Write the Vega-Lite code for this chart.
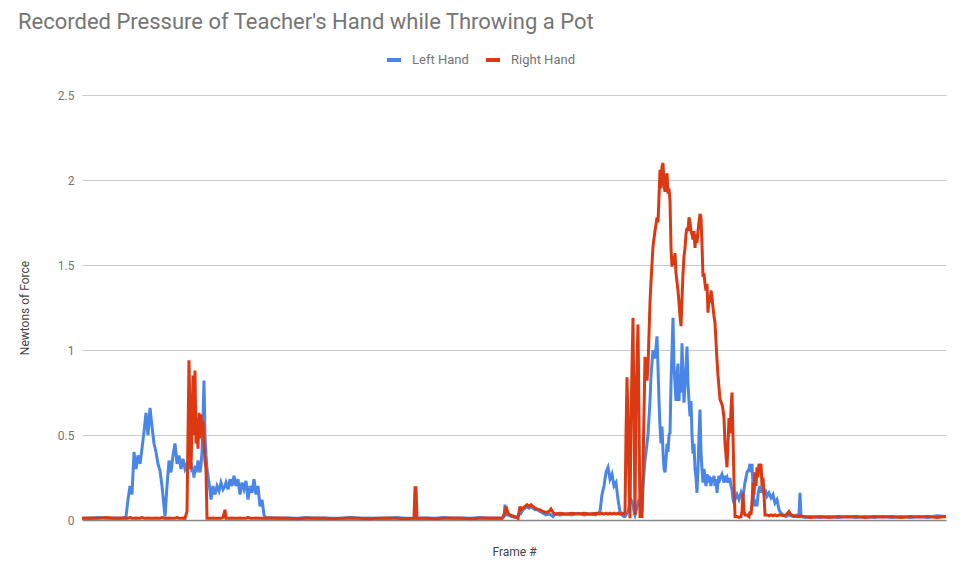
{
  "$schema": "https://vega.github.io/schema/vega-lite/v6.json",
  "autosize": "none",
  "padding": {"left": 82, "top": 95, "right": 14, "bottom": 46},
  "width": 864,
  "height": 425,
  "title": {
    "text": "Recorded Pressure of Teacher's Hand while Throwing a Pot",
    "anchor": "start",
    "frame": "group",
    "dx": -64,
    "offset": 17,
    "fontSize": 22,
    "font": "Roboto",
    "fontWeight": "normal",
    "color": "#757575"
  },
  "data": {
    "values": [
      {"f": 0, "Left Hand": 0.01, "Right Hand": 0.01},
      {"f": 8, "Left Hand": 0.01, "Right Hand": 0.012},
      {"f": 16, "Left Hand": 0.015, "Right Hand": 0.01},
      {"f": 24, "Left Hand": 0.01, "Right Hand": 0.015},
      {"f": 32, "Left Hand": 0.012, "Right Hand": 0.01},
      {"f": 40, "Left Hand": 0.01, "Right Hand": 0.012},
      {"f": 44, "Left Hand": 0.02, "Right Hand": 0.01},
      {"f": 46, "Left Hand": 0.12, "Right Hand": 0.01},
      {"f": 48, "Left Hand": 0.2, "Right Hand": 0.015},
      {"f": 50, "Left Hand": 0.15, "Right Hand": 0.01},
      {"f": 52, "Left Hand": 0.4, "Right Hand": 0.01},
      {"f": 54, "Left Hand": 0.3, "Right Hand": 0.012},
      {"f": 56, "Left Hand": 0.38, "Right Hand": 0.01},
      {"f": 58, "Left Hand": 0.33, "Right Hand": 0.01},
      {"f": 60, "Left Hand": 0.42, "Right Hand": 0.015},
      {"f": 62, "Left Hand": 0.52, "Right Hand": 0.01},
      {"f": 64, "Left Hand": 0.63, "Right Hand": 0.01},
      {"f": 66, "Left Hand": 0.5, "Right Hand": 0.012},
      {"f": 68, "Left Hand": 0.66, "Right Hand": 0.01},
      {"f": 70, "Left Hand": 0.55, "Right Hand": 0.01},
      {"f": 72, "Left Hand": 0.45, "Right Hand": 0.01},
      {"f": 74, "Left Hand": 0.4, "Right Hand": 0.012},
      {"f": 76, "Left Hand": 0.33, "Right Hand": 0.01},
      {"f": 78, "Left Hand": 0.29, "Right Hand": 0.01},
      {"f": 80, "Left Hand": 0.2, "Right Hand": 0.015},
      {"f": 82, "Left Hand": 0.08, "Right Hand": 0.01},
      {"f": 83, "Left Hand": 0.02, "Right Hand": 0.01},
      {"f": 85, "Left Hand": 0.2, "Right Hand": 0.01},
      {"f": 87, "Left Hand": 0.35, "Right Hand": 0.012},
      {"f": 89, "Left Hand": 0.28, "Right Hand": 0.01},
      {"f": 91, "Left Hand": 0.38, "Right Hand": 0.01},
      {"f": 93, "Left Hand": 0.45, "Right Hand": 0.01},
      {"f": 95, "Left Hand": 0.33, "Right Hand": 0.015},
      {"f": 97, "Left Hand": 0.38, "Right Hand": 0.01},
      {"f": 99, "Left Hand": 0.3, "Right Hand": 0.01},
      {"f": 101, "Left Hand": 0.36, "Right Hand": 0.012},
      {"f": 103, "Left Hand": 0.3, "Right Hand": 0.01},
      {"f": 105, "Left Hand": 0.33, "Right Hand": 0.05},
      {"f": 106, "Left Hand": 0.3, "Right Hand": 0.5},
      {"f": 107, "Left Hand": 0.35, "Right Hand": 0.94},
      {"f": 108, "Left Hand": 0.3, "Right Hand": 0.6},
      {"f": 109, "Left Hand": 0.33, "Right Hand": 0.3},
      {"f": 110, "Left Hand": 0.28, "Right Hand": 0.55},
      {"f": 111, "Left Hand": 0.3, "Right Hand": 0.85},
      {"f": 112, "Left Hand": 0.25, "Right Hand": 0.5},
      {"f": 113, "Left Hand": 0.32, "Right Hand": 0.88},
      {"f": 114, "Left Hand": 0.28, "Right Hand": 0.45},
      {"f": 115, "Left Hand": 0.3, "Right Hand": 0.6},
      {"f": 116, "Left Hand": 0.35, "Right Hand": 0.42},
      {"f": 117, "Left Hand": 0.3, "Right Hand": 0.63},
      {"f": 118, "Left Hand": 0.28, "Right Hand": 0.48},
      {"f": 119, "Left Hand": 0.32, "Right Hand": 0.62},
      {"f": 120, "Left Hand": 0.4, "Right Hand": 0.5},
      {"f": 121, "Left Hand": 0.6, "Right Hand": 0.58},
      {"f": 122, "Left Hand": 0.82, "Right Hand": 0.45},
      {"f": 123, "Left Hand": 0.5, "Right Hand": 0.35},
      {"f": 124, "Left Hand": 0.38, "Right Hand": 0.3},
      {"f": 125, "Left Hand": 0.3, "Right Hand": 0.01},
      {"f": 127, "Left Hand": 0.22, "Right Hand": 0.01},
      {"f": 129, "Left Hand": 0.12, "Right Hand": 0.01},
      {"f": 131, "Left Hand": 0.2, "Right Hand": 0.012},
      {"f": 133, "Left Hand": 0.15, "Right Hand": 0.01},
      {"f": 135, "Left Hand": 0.2, "Right Hand": 0.01},
      {"f": 137, "Left Hand": 0.17, "Right Hand": 0.01},
      {"f": 139, "Left Hand": 0.22, "Right Hand": 0.01},
      {"f": 141, "Left Hand": 0.18, "Right Hand": 0.015},
      {"f": 143, "Left Hand": 0.2, "Right Hand": 0.06},
      {"f": 144, "Left Hand": 0.22, "Right Hand": 0.01},
      {"f": 146, "Left Hand": 0.18, "Right Hand": 0.01},
      {"f": 148, "Left Hand": 0.24, "Right Hand": 0.01},
      {"f": 150, "Left Hand": 0.2, "Right Hand": 0.012},
      {"f": 152, "Left Hand": 0.26, "Right Hand": 0.01},
      {"f": 154, "Left Hand": 0.2, "Right Hand": 0.01},
      {"f": 156, "Left Hand": 0.24, "Right Hand": 0.01},
      {"f": 158, "Left Hand": 0.15, "Right Hand": 0.012},
      {"f": 160, "Left Hand": 0.22, "Right Hand": 0.01},
      {"f": 162, "Left Hand": 0.18, "Right Hand": 0.01},
      {"f": 164, "Left Hand": 0.23, "Right Hand": 0.01},
      {"f": 166, "Left Hand": 0.12, "Right Hand": 0.015},
      {"f": 168, "Left Hand": 0.2, "Right Hand": 0.01},
      {"f": 170, "Left Hand": 0.16, "Right Hand": 0.01},
      {"f": 172, "Left Hand": 0.24, "Right Hand": 0.01},
      {"f": 174, "Left Hand": 0.15, "Right Hand": 0.012},
      {"f": 176, "Left Hand": 0.2, "Right Hand": 0.01},
      {"f": 178, "Left Hand": 0.08, "Right Hand": 0.01},
      {"f": 180, "Left Hand": 0.12, "Right Hand": 0.01},
      {"f": 182, "Left Hand": 0.03, "Right Hand": 0.01},
      {"f": 184, "Left Hand": 0.01, "Right Hand": 0.012},
      {"f": 188, "Left Hand": 0.015, "Right Hand": 0.01},
      {"f": 197, "Left Hand": 0.01, "Right Hand": 0.012},
      {"f": 206, "Left Hand": 0.012, "Right Hand": 0.01},
      {"f": 215, "Left Hand": 0.01, "Right Hand": 0.008},
      {"f": 224, "Left Hand": 0.015, "Right Hand": 0.01},
      {"f": 233, "Left Hand": 0.01, "Right Hand": 0.012},
      {"f": 242, "Left Hand": 0.012, "Right Hand": 0.01},
      {"f": 251, "Left Hand": 0.01, "Right Hand": 0.008},
      {"f": 260, "Left Hand": 0.01, "Right Hand": 0.01},
      {"f": 269, "Left Hand": 0.015, "Right Hand": 0.012},
      {"f": 278, "Left Hand": 0.01, "Right Hand": 0.01},
      {"f": 287, "Left Hand": 0.012, "Right Hand": 0.008},
      {"f": 296, "Left Hand": 0.01, "Right Hand": 0.01},
      {"f": 305, "Left Hand": 0.01, "Right Hand": 0.012},
      {"f": 314, "Left Hand": 0.015, "Right Hand": 0.01},
      {"f": 323, "Left Hand": 0.01, "Right Hand": 0.008},
      {"f": 331, "Left Hand": 0.01, "Right Hand": 0.01},
      {"f": 332, "Left Hand": 0.01, "Right Hand": 0.01},
      {"f": 333, "Left Hand": 0.01, "Right Hand": 0.19},
      {"f": 334, "Left Hand": 0.01, "Right Hand": 0.19},
      {"f": 335, "Left Hand": 0.01, "Right Hand": 0.01},
      {"f": 344, "Left Hand": 0.012, "Right Hand": 0.01},
      {"f": 353, "Left Hand": 0.01, "Right Hand": 0.008},
      {"f": 362, "Left Hand": 0.015, "Right Hand": 0.01},
      {"f": 371, "Left Hand": 0.01, "Right Hand": 0.012},
      {"f": 380, "Left Hand": 0.012, "Right Hand": 0.01},
      {"f": 389, "Left Hand": 0.01, "Right Hand": 0.008},
      {"f": 398, "Left Hand": 0.015, "Right Hand": 0.01},
      {"f": 407, "Left Hand": 0.01, "Right Hand": 0.012},
      {"f": 416, "Left Hand": 0.012, "Right Hand": 0.01},
      {"f": 420, "Left Hand": 0.01, "Right Hand": 0.01},
      {"f": 422, "Left Hand": 0.02, "Right Hand": 0.03},
      {"f": 423, "Left Hand": 0.09, "Right Hand": 0.05},
      {"f": 424, "Left Hand": 0.03, "Right Hand": 0.08},
      {"f": 426, "Left Hand": 0.03, "Right Hand": 0.04},
      {"f": 428, "Left Hand": 0.025, "Right Hand": 0.03},
      {"f": 430, "Left Hand": 0.02, "Right Hand": 0.025},
      {"f": 433, "Left Hand": 0.015, "Right Hand": 0.02},
      {"f": 436, "Left Hand": 0.02, "Right Hand": 0.01},
      {"f": 438, "Left Hand": 0.05, "Right Hand": 0.08},
      {"f": 439, "Left Hand": 0.04, "Right Hand": 0.06},
      {"f": 441, "Left Hand": 0.06, "Right Hand": 0.07},
      {"f": 443, "Left Hand": 0.07, "Right Hand": 0.08},
      {"f": 445, "Left Hand": 0.08, "Right Hand": 0.09},
      {"f": 447, "Left Hand": 0.07, "Right Hand": 0.08},
      {"f": 449, "Left Hand": 0.08, "Right Hand": 0.09},
      {"f": 451, "Left Hand": 0.07, "Right Hand": 0.08},
      {"f": 453, "Left Hand": 0.06, "Right Hand": 0.07},
      {"f": 455, "Left Hand": 0.06, "Right Hand": 0.065},
      {"f": 458, "Left Hand": 0.05, "Right Hand": 0.06},
      {"f": 461, "Left Hand": 0.04, "Right Hand": 0.05},
      {"f": 464, "Left Hand": 0.03, "Right Hand": 0.045},
      {"f": 467, "Left Hand": 0.035, "Right Hand": 0.05},
      {"f": 469, "Left Hand": 0.03, "Right Hand": 0.065},
      {"f": 471, "Left Hand": 0.02, "Right Hand": 0.045},
      {"f": 473, "Left Hand": 0.035, "Right Hand": 0.035},
      {"f": 478, "Left Hand": 0.03, "Right Hand": 0.04},
      {"f": 484, "Left Hand": 0.035, "Right Hand": 0.035},
      {"f": 490, "Left Hand": 0.03, "Right Hand": 0.04},
      {"f": 496, "Left Hand": 0.04, "Right Hand": 0.035},
      {"f": 502, "Left Hand": 0.03, "Right Hand": 0.04},
      {"f": 508, "Left Hand": 0.035, "Right Hand": 0.035},
      {"f": 514, "Left Hand": 0.03, "Right Hand": 0.04},
      {"f": 518, "Left Hand": 0.05, "Right Hand": 0.035},
      {"f": 520, "Left Hand": 0.15, "Right Hand": 0.04},
      {"f": 522, "Left Hand": 0.2, "Right Hand": 0.035},
      {"f": 524, "Left Hand": 0.28, "Right Hand": 0.04},
      {"f": 526, "Left Hand": 0.31, "Right Hand": 0.035},
      {"f": 528, "Left Hand": 0.24, "Right Hand": 0.04},
      {"f": 530, "Left Hand": 0.27, "Right Hand": 0.035},
      {"f": 532, "Left Hand": 0.2, "Right Hand": 0.04},
      {"f": 534, "Left Hand": 0.22, "Right Hand": 0.035},
      {"f": 536, "Left Hand": 0.12, "Right Hand": 0.04},
      {"f": 538, "Left Hand": 0.05, "Right Hand": 0.035},
      {"f": 540, "Left Hand": 0.03, "Right Hand": 0.04},
      {"f": 542, "Left Hand": 0.02, "Right Hand": 0.035},
      {"f": 543, "Left Hand": 0.02, "Right Hand": 0.04},
      {"f": 544, "Left Hand": 0.03, "Right Hand": 0.5},
      {"f": 545, "Left Hand": 0.04, "Right Hand": 0.84},
      {"f": 546, "Left Hand": 0.05, "Right Hand": 0.6},
      {"f": 547, "Left Hand": 0.08, "Right Hand": 0.2},
      {"f": 548, "Left Hand": 0.1, "Right Hand": 0.01},
      {"f": 549, "Left Hand": 0.12, "Right Hand": 0.6},
      {"f": 551, "Left Hand": 0.1, "Right Hand": 1.19},
      {"f": 552, "Left Hand": 0.05, "Right Hand": 0.6},
      {"f": 553, "Left Hand": 0.03, "Right Hand": 0.03},
      {"f": 554, "Left Hand": 0.05, "Right Hand": 0.7},
      {"f": 556, "Left Hand": 0.1, "Right Hand": 1.15},
      {"f": 557, "Left Hand": 0.08, "Right Hand": 0.6},
      {"f": 558, "Left Hand": 0.12, "Right Hand": 0.02},
      {"f": 560, "Left Hand": 0.05, "Right Hand": 0.02},
      {"f": 561, "Left Hand": 0.2, "Right Hand": 0.3},
      {"f": 563, "Left Hand": 0.35, "Right Hand": 0.96},
      {"f": 565, "Left Hand": 0.45, "Right Hand": 0.82},
      {"f": 566, "Left Hand": 0.5, "Right Hand": 0.9},
      {"f": 568, "Left Hand": 0.7, "Right Hand": 1.28},
      {"f": 569, "Left Hand": 0.85, "Right Hand": 1.4},
      {"f": 571, "Left Hand": 1.0, "Right Hand": 1.61},
      {"f": 573, "Left Hand": 0.95, "Right Hand": 1.7},
      {"f": 575, "Left Hand": 1.08, "Right Hand": 1.78},
      {"f": 576, "Left Hand": 0.9, "Right Hand": 1.75},
      {"f": 577, "Left Hand": 0.7, "Right Hand": 1.9},
      {"f": 578, "Left Hand": 0.55, "Right Hand": 2.06},
      {"f": 579, "Left Hand": 0.45, "Right Hand": 1.95},
      {"f": 580, "Left Hand": 0.55, "Right Hand": 2.08},
      {"f": 581, "Left Hand": 0.4, "Right Hand": 2.1},
      {"f": 582, "Left Hand": 0.3, "Right Hand": 1.98},
      {"f": 583, "Left Hand": 0.28, "Right Hand": 1.93},
      {"f": 584, "Left Hand": 0.35, "Right Hand": 2.0},
      {"f": 585, "Left Hand": 0.45, "Right Hand": 2.04},
      {"f": 586, "Left Hand": 0.4, "Right Hand": 1.92},
      {"f": 587, "Left Hand": 0.5, "Right Hand": 1.95},
      {"f": 588, "Left Hand": 0.51, "Right Hand": 1.88},
      {"f": 589, "Left Hand": 0.8, "Right Hand": 1.6},
      {"f": 590, "Left Hand": 1.0, "Right Hand": 1.49},
      {"f": 591, "Left Hand": 1.19, "Right Hand": 1.55},
      {"f": 592, "Left Hand": 0.9, "Right Hand": 1.5},
      {"f": 593, "Left Hand": 0.8, "Right Hand": 1.57},
      {"f": 594, "Left Hand": 0.7, "Right Hand": 1.45},
      {"f": 595, "Left Hand": 0.85, "Right Hand": 1.4},
      {"f": 596, "Left Hand": 0.92, "Right Hand": 1.35},
      {"f": 597, "Left Hand": 0.7, "Right Hand": 1.28},
      {"f": 598, "Left Hand": 0.85, "Right Hand": 1.2},
      {"f": 599, "Left Hand": 0.75, "Right Hand": 1.14},
      {"f": 600, "Left Hand": 1.04, "Right Hand": 1.3},
      {"f": 601, "Left Hand": 0.85, "Right Hand": 1.45},
      {"f": 602, "Left Hand": 0.69, "Right Hand": 1.55},
      {"f": 603, "Left Hand": 0.8, "Right Hand": 1.6},
      {"f": 604, "Left Hand": 0.9, "Right Hand": 1.68},
      {"f": 605, "Left Hand": 1.02, "Right Hand": 1.72},
      {"f": 606, "Left Hand": 0.8, "Right Hand": 1.7},
      {"f": 607, "Left Hand": 0.7, "Right Hand": 1.78},
      {"f": 608, "Left Hand": 0.61, "Right Hand": 1.75},
      {"f": 609, "Left Hand": 0.7, "Right Hand": 1.7},
      {"f": 610, "Left Hand": 0.5, "Right Hand": 1.68},
      {"f": 611, "Left Hand": 0.39, "Right Hand": 1.65},
      {"f": 612, "Left Hand": 0.45, "Right Hand": 1.7},
      {"f": 613, "Left Hand": 0.3, "Right Hand": 1.6},
      {"f": 614, "Left Hand": 0.25, "Right Hand": 1.68},
      {"f": 615, "Left Hand": 0.16, "Right Hand": 1.63},
      {"f": 616, "Left Hand": 0.3, "Right Hand": 1.7},
      {"f": 617, "Left Hand": 0.5, "Right Hand": 1.75},
      {"f": 618, "Left Hand": 0.65, "Right Hand": 1.8},
      {"f": 619, "Left Hand": 0.4, "Right Hand": 1.78},
      {"f": 620, "Left Hand": 0.3, "Right Hand": 1.62},
      {"f": 621, "Left Hand": 0.22, "Right Hand": 1.43},
      {"f": 622, "Left Hand": 0.3, "Right Hand": 1.45},
      {"f": 623, "Left Hand": 0.25, "Right Hand": 1.39},
      {"f": 624, "Left Hand": 0.2, "Right Hand": 1.35},
      {"f": 625, "Left Hand": 0.27, "Right Hand": 1.39},
      {"f": 626, "Left Hand": 0.22, "Right Hand": 1.22},
      {"f": 627, "Left Hand": 0.26, "Right Hand": 1.3},
      {"f": 628, "Left Hand": 0.24, "Right Hand": 1.28},
      {"f": 629, "Left Hand": 0.2, "Right Hand": 1.35},
      {"f": 630, "Left Hand": 0.25, "Right Hand": 1.31},
      {"f": 631, "Left Hand": 0.22, "Right Hand": 1.25},
      {"f": 632, "Left Hand": 0.26, "Right Hand": 1.2},
      {"f": 633, "Left Hand": 0.2, "Right Hand": 1.16},
      {"f": 634, "Left Hand": 0.24, "Right Hand": 1.05},
      {"f": 635, "Left Hand": 0.16, "Right Hand": 0.94},
      {"f": 636, "Left Hand": 0.22, "Right Hand": 0.85},
      {"f": 637, "Left Hand": 0.26, "Right Hand": 0.78},
      {"f": 638, "Left Hand": 0.24, "Right Hand": 0.71},
      {"f": 640, "Left Hand": 0.27, "Right Hand": 0.68},
      {"f": 641, "Left Hand": 0.25, "Right Hand": 0.65},
      {"f": 642, "Left Hand": 0.22, "Right Hand": 0.6},
      {"f": 643, "Left Hand": 0.26, "Right Hand": 0.45},
      {"f": 644, "Left Hand": 0.24, "Right Hand": 0.38},
      {"f": 645, "Left Hand": 0.25, "Right Hand": 0.31},
      {"f": 646, "Left Hand": 0.22, "Right Hand": 0.45},
      {"f": 647, "Left Hand": 0.24, "Right Hand": 0.6},
      {"f": 648, "Left Hand": 0.24, "Right Hand": 0.51},
      {"f": 649, "Left Hand": 0.2, "Right Hand": 0.65},
      {"f": 650, "Left Hand": 0.18, "Right Hand": 0.75},
      {"f": 651, "Left Hand": 0.12, "Right Hand": 0.5},
      {"f": 652, "Left Hand": 0.1, "Right Hand": 0.22},
      {"f": 653, "Left Hand": 0.12, "Right Hand": 0.02},
      {"f": 655, "Left Hand": 0.15, "Right Hand": 0.02},
      {"f": 657, "Left Hand": 0.12, "Right Hand": 0.015},
      {"f": 659, "Left Hand": 0.16, "Right Hand": 0.02},
      {"f": 660, "Left Hand": 0.14, "Right Hand": 0.05},
      {"f": 661, "Left Hand": 0.14, "Right Hand": 0.16},
      {"f": 662, "Left Hand": 0.18, "Right Hand": 0.05},
      {"f": 663, "Left Hand": 0.22, "Right Hand": 0.03},
      {"f": 665, "Left Hand": 0.28, "Right Hand": 0.03},
      {"f": 667, "Left Hand": 0.3, "Right Hand": 0.02},
      {"f": 668, "Left Hand": 0.33, "Right Hand": 0.05},
      {"f": 669, "Left Hand": 0.28, "Right Hand": 0.03},
      {"f": 670, "Left Hand": 0.33, "Right Hand": 0.1},
      {"f": 671, "Left Hand": 0.2, "Right Hand": 0.22},
      {"f": 672, "Left Hand": 0.1, "Right Hand": 0.15},
      {"f": 673, "Left Hand": 0.08, "Right Hand": 0.28},
      {"f": 674, "Left Hand": 0.12, "Right Hand": 0.2},
      {"f": 675, "Left Hand": 0.08, "Right Hand": 0.31},
      {"f": 676, "Left Hand": 0.15, "Right Hand": 0.25},
      {"f": 677, "Left Hand": 0.18, "Right Hand": 0.33},
      {"f": 678, "Left Hand": 0.2, "Right Hand": 0.3},
      {"f": 679, "Left Hand": 0.16, "Right Hand": 0.33},
      {"f": 680, "Left Hand": 0.19, "Right Hand": 0.2},
      {"f": 681, "Left Hand": 0.19, "Right Hand": 0.25},
      {"f": 682, "Left Hand": 0.15, "Right Hand": 0.15},
      {"f": 683, "Left Hand": 0.18, "Right Hand": 0.03},
      {"f": 685, "Left Hand": 0.14, "Right Hand": 0.03},
      {"f": 687, "Left Hand": 0.16, "Right Hand": 0.025},
      {"f": 689, "Left Hand": 0.13, "Right Hand": 0.03},
      {"f": 691, "Left Hand": 0.15, "Right Hand": 0.025},
      {"f": 693, "Left Hand": 0.1, "Right Hand": 0.03},
      {"f": 695, "Left Hand": 0.12, "Right Hand": 0.025},
      {"f": 697, "Left Hand": 0.06, "Right Hand": 0.03},
      {"f": 699, "Left Hand": 0.04, "Right Hand": 0.03},
      {"f": 701, "Left Hand": 0.03, "Right Hand": 0.025},
      {"f": 704, "Left Hand": 0.02, "Right Hand": 0.03},
      {"f": 707, "Left Hand": 0.03, "Right Hand": 0.05},
      {"f": 709, "Left Hand": 0.025, "Right Hand": 0.03},
      {"f": 712, "Left Hand": 0.02, "Right Hand": 0.025},
      {"f": 715, "Left Hand": 0.03, "Right Hand": 0.02},
      {"f": 717, "Left Hand": 0.03, "Right Hand": 0.025},
      {"f": 718, "Left Hand": 0.16, "Right Hand": 0.02},
      {"f": 719, "Left Hand": 0.02, "Right Hand": 0.025},
      {"f": 723, "Left Hand": 0.015, "Right Hand": 0.02},
      {"f": 728, "Left Hand": 0.02, "Right Hand": 0.015},
      {"f": 738, "Left Hand": 0.015, "Right Hand": 0.02},
      {"f": 747, "Left Hand": 0.02, "Right Hand": 0.015},
      {"f": 756, "Left Hand": 0.015, "Right Hand": 0.02},
      {"f": 765, "Left Hand": 0.02, "Right Hand": 0.018},
      {"f": 774, "Left Hand": 0.015, "Right Hand": 0.02},
      {"f": 783, "Left Hand": 0.02, "Right Hand": 0.015},
      {"f": 792, "Left Hand": 0.015, "Right Hand": 0.02},
      {"f": 801, "Left Hand": 0.02, "Right Hand": 0.018},
      {"f": 810, "Left Hand": 0.015, "Right Hand": 0.02},
      {"f": 819, "Left Hand": 0.02, "Right Hand": 0.015},
      {"f": 828, "Left Hand": 0.015, "Right Hand": 0.02},
      {"f": 837, "Left Hand": 0.02, "Right Hand": 0.018},
      {"f": 846, "Left Hand": 0.015, "Right Hand": 0.02},
      {"f": 855, "Left Hand": 0.025, "Right Hand": 0.015},
      {"f": 864, "Left Hand": 0.02, "Right Hand": 0.02}
    ]
  },
  "transform": [
    {"fold": ["Left Hand", "Right Hand"], "as": ["hand", "force"]}
  ],
  "mark": {"type": "line", "strokeWidth": 3, "interpolate": "linear"},
  "encoding": {
    "x": {
      "field": "f",
      "type": "quantitative",
      "scale": {"domain": [0, 864], "nice": false, "zero": false},
      "axis": {
        "title": "Frame #",
        "labels": false,
        "ticks": false,
        "grid": false,
        "domainColor": "#888",
        "domainWidth": 1.5,
        "titlePadding": 26,
        "titleFont": "Roboto",
        "titleFontSize": 12,
        "titleFontWeight": "normal",
        "titleColor": "#444"
      }
    },
    "y": {
      "field": "force",
      "type": "quantitative",
      "scale": {"domain": [0, 2.5], "nice": false},
      "axis": {
        "title": "Newtons of Force",
        "values": [0, 0.5, 1, 1.5, 2, 2.5],
        "format": "~g",
        "domain": false,
        "ticks": false,
        "gridColor": "#cccccc",
        "labelPadding": 8,
        "labelFont": "Roboto",
        "labelFontSize": 12,
        "labelColor": "#757575",
        "titlePadding": 26,
        "titleFont": "Roboto",
        "titleFontSize": 12,
        "titleFontWeight": "normal",
        "titleColor": "#444"
      }
    },
    "color": {
      "field": "hand",
      "type": "nominal",
      "scale": {"domain": ["Left Hand", "Right Hand"], "range": ["#4a86e8", "#dc3912"]},
      "legend": {
        "title": null,
        "orient": "none",
        "legendX": 303,
        "legendY": -44,
        "direction": "horizontal",
        "symbolType": "stroke",
        "symbolSize": 196,
        "symbolStrokeWidth": 4,
        "labelFont": "Roboto",
        "labelFontSize": 13,
        "labelColor": "#757575",
        "labelOffset": 9,
        "columnPadding": 9
      }
    }
  },
  "config": {
    "font": "Roboto",
    "view": {"stroke": null},
    "background": "white"
  }
}
